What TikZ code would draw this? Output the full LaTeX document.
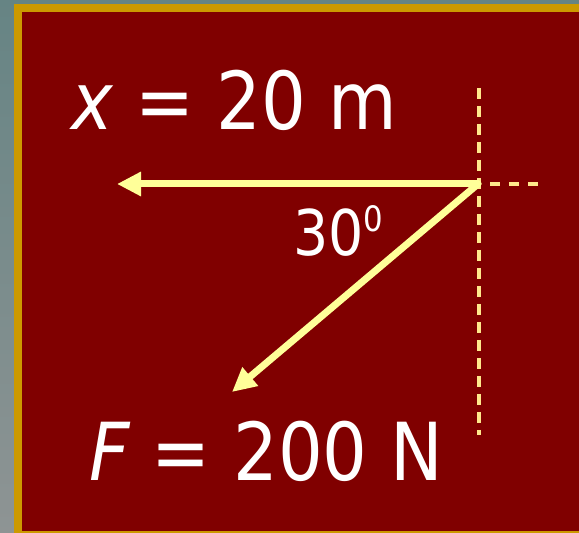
\documentclass[tikz,border=0pt]{standalone}
\usepackage{fontspec}
\setmainfont[FakeStretch=0.88]{DejaVu Sans}
\usetikzlibrary{arrows.meta}

\definecolor{slide}{HTML}{800000}
\definecolor{rim}{HTML}{CC9900}
\definecolor{pale}{HTML}{FFFF99}
\definecolor{guide}{HTML}{FFE88C}

\begin{document}
\begin{tikzpicture}[
  x=1pt, y=1pt,
  vec/.style={-{Triangle[length=24pt,width=23pt]}, line width=7pt, draw=pale, line cap=round},
  aux/.style={draw=guide, line width=3.5pt},
  big/.style={text=white, inner sep=0pt, anchor=base west, font=\fontsize{80}{80}\selectfont},
  ang/.style={text=white, inner sep=0pt, anchor=base west, font=\fontsize{63}{63}\selectfont}
]

\useasboundingbox (0,0) rectangle (579,533);
\shade[top color={rgb,255:red,102;green,132;blue,132}, bottom color={rgb,255:red,142;green,148;blue,148}] (0,0) rectangle (579,533);
\fill[rim] (14,0) rectangle (579,529);
\fill[slide] (22,1.5) rectangle (579,521);

\coordinate (corner) at (478,349);
\coordinate (xtip) at (117,349);
\coordinate (ftip) at (232,141);
\coordinate (vtop) at (479,445);
\coordinate (vbot) at (479,98);
\coordinate (hbeg) at (490,349);
\coordinate (hend) at (538,349);

% guide lines
\draw[aux, dash pattern=on 11pt off 7pt] (vtop) -- (vbot);
\draw[aux, dash pattern=on 10pt off 9pt] (hbeg) -- (hend);

\draw[vec] (corner) -- (xtip);
\draw[vec] (corner) -- (ftip);

\node[big] (xlabel) at (71,403) {\textit{x =} 20 m};
\node[big] (flabel) at (89,52) {\textit{F =} 200 N};
\node[ang] (angle) at (293,277) {30\raisebox{24pt}{\fontsize{35}{35}\selectfont 0}};

\end{tikzpicture}
\end{document}
